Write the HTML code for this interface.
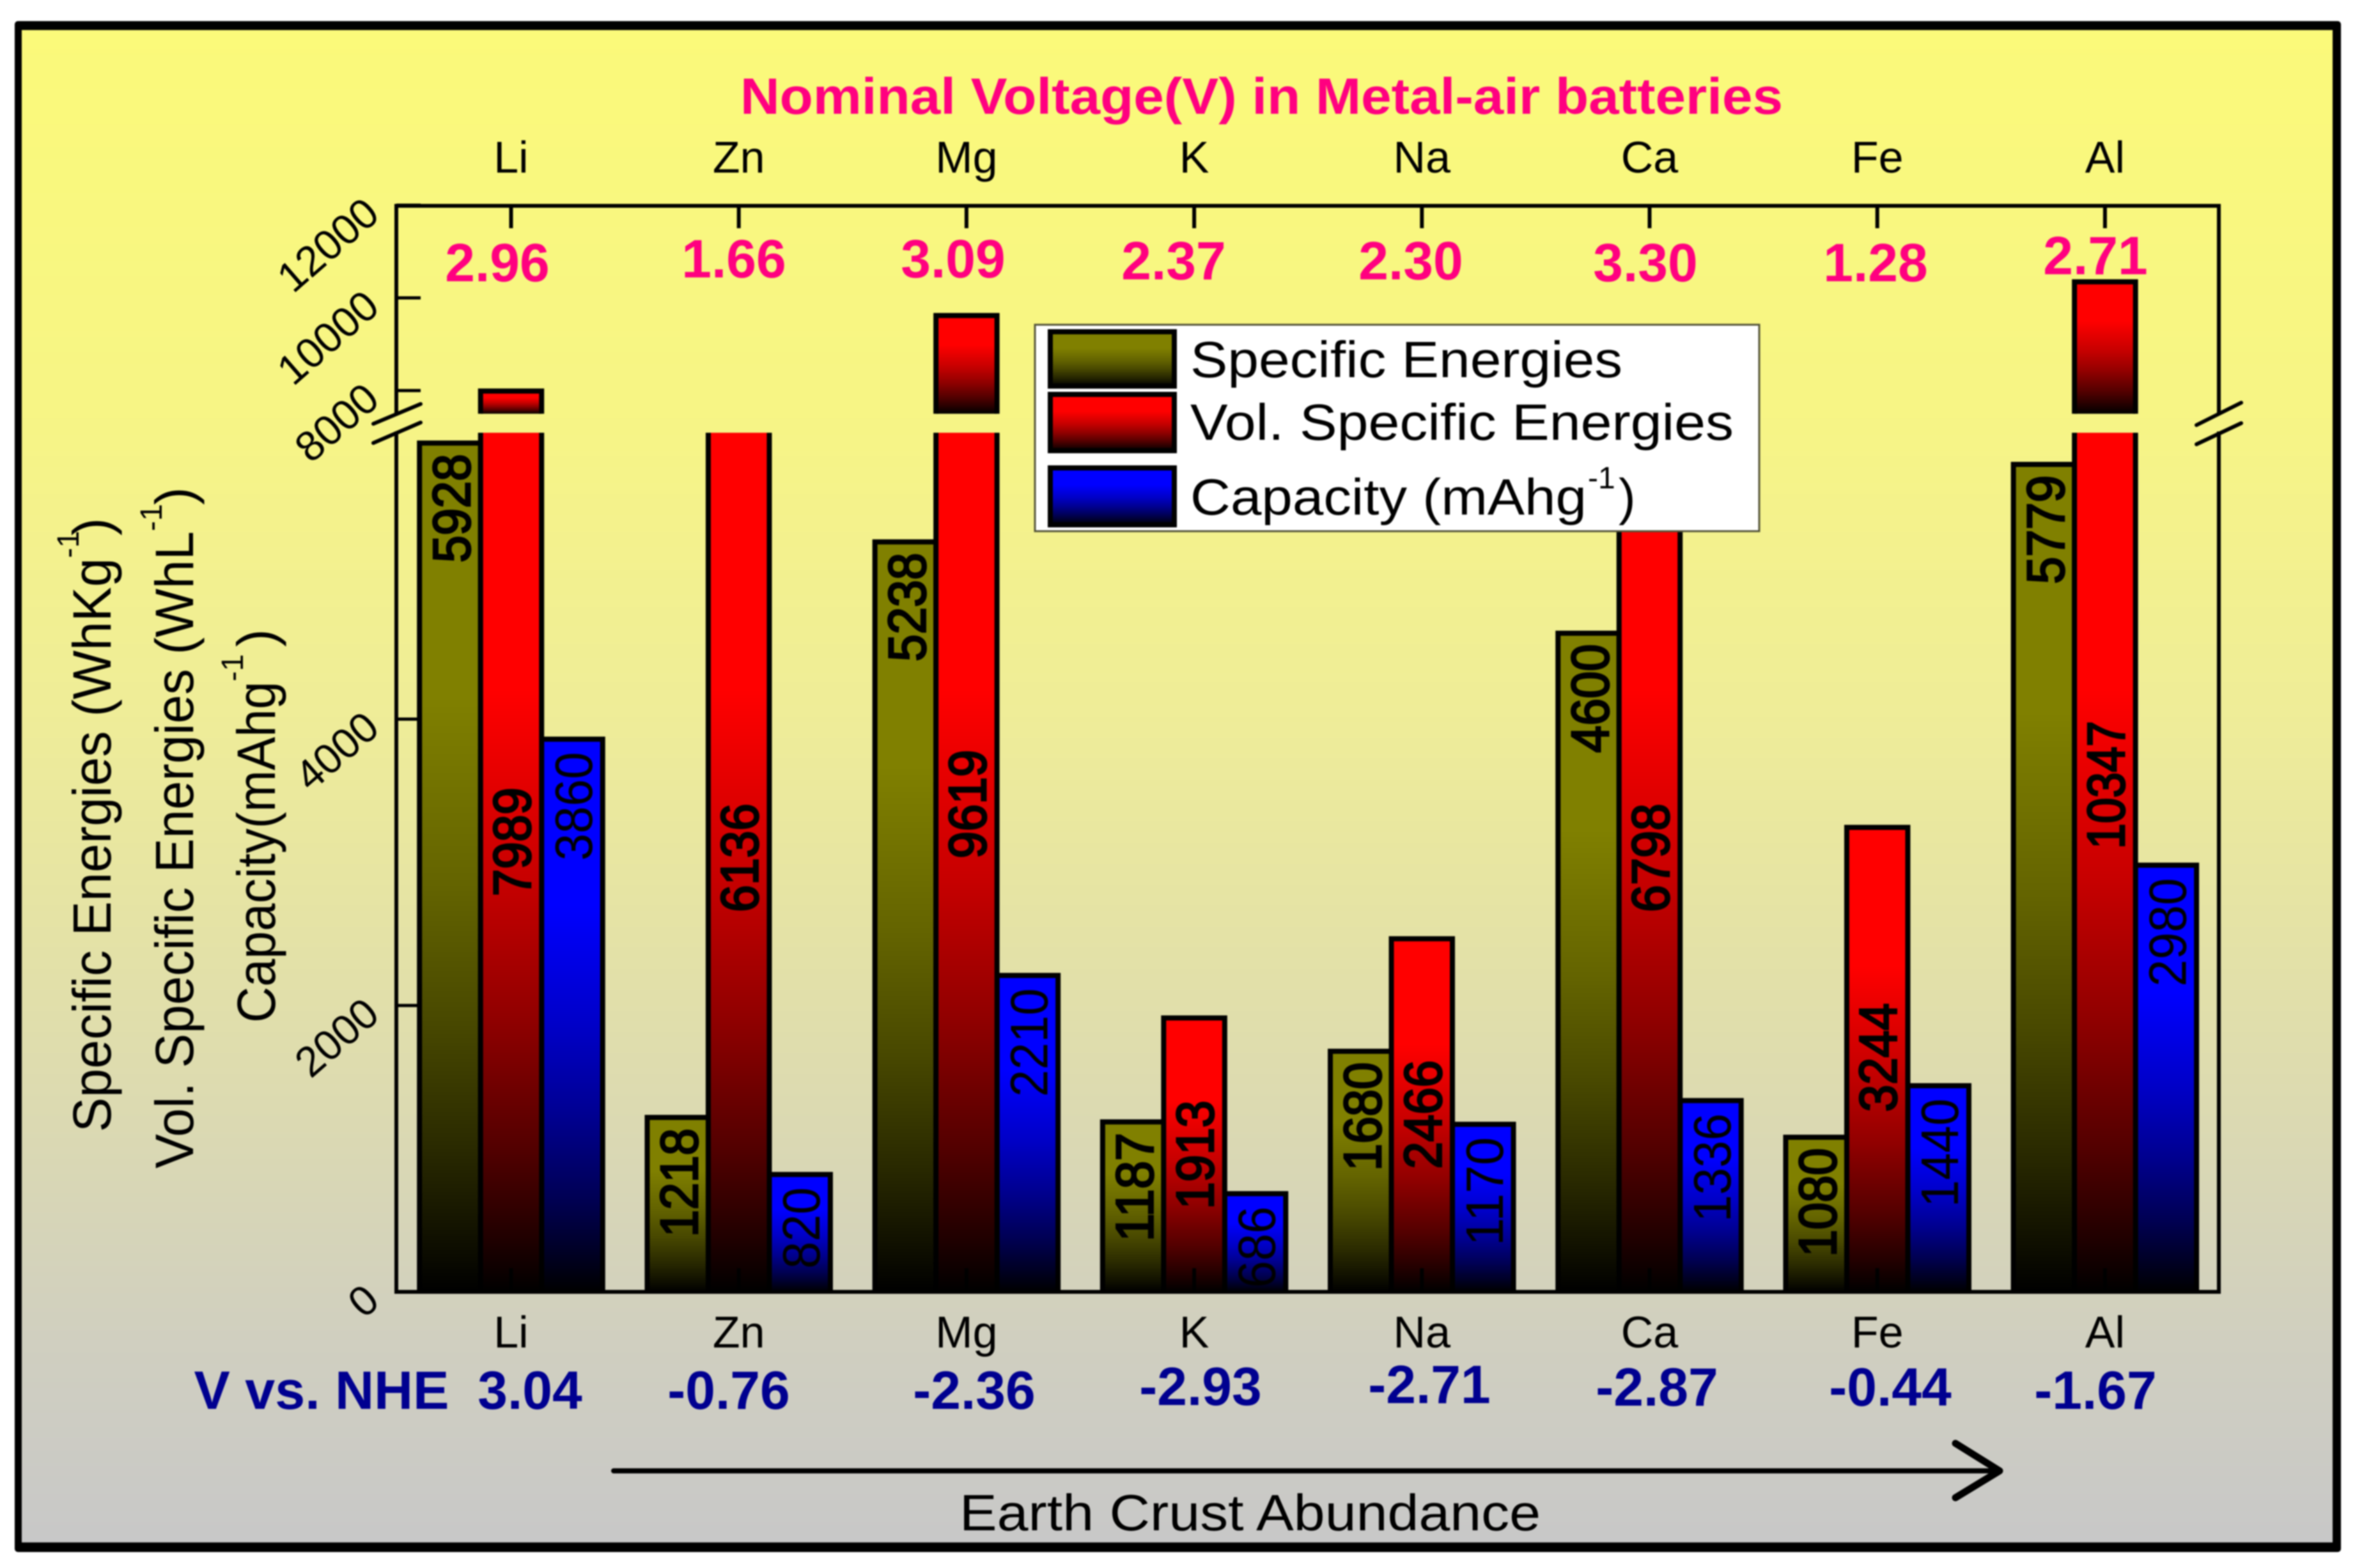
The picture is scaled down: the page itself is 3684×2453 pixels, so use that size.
<!DOCTYPE html>
<html lang="en">
<head>
<meta charset="utf-8">
<title>Metal-air batteries chart</title>
<style>
html,body{margin:0;padding:0;background:#fff;}
svg{display:block;filter:blur(1.1px);}
text{font-family:"Liberation Sans",sans-serif;}
</style>
</head>
<body>
<svg id="chart" xmlns="http://www.w3.org/2000/svg" width="3684" height="2453" viewBox="0 0 3684 2453">
  <defs>
    <linearGradient id="bg-grad" x1="0" y1="0" x2="0" y2="1">
      <stop offset="0" stop-color="#fbfa7a"/><stop offset="0.25" stop-color="#f7f585"/>
      <stop offset="0.45" stop-color="#efed98"/><stop offset="0.7" stop-color="#dddbb0"/>
      <stop offset="0.87" stop-color="#d0cfc0"/><stop offset="1" stop-color="#c8c8c8"/>
    </linearGradient>
    <linearGradient id="grad-olive" x1="0" y1="0" x2="0" y2="1">
      <stop offset="0" stop-color="#808000"/><stop offset="0.3" stop-color="#808000"/>
      <stop offset="0.52" stop-color="#646400"/><stop offset="0.68" stop-color="#494900"/>
      <stop offset="0.83" stop-color="#2a2a00"/><stop offset="0.93" stop-color="#121200"/>
      <stop offset="1" stop-color="#000"/>
    </linearGradient>
    <linearGradient id="grad-red" x1="0" y1="0" x2="0" y2="1">
      <stop offset="0" stop-color="#ff0000"/><stop offset="0.3" stop-color="#ff0000"/>
      <stop offset="0.52" stop-color="#c70000"/><stop offset="0.68" stop-color="#910000"/>
      <stop offset="0.83" stop-color="#540000"/><stop offset="0.93" stop-color="#240000"/>
      <stop offset="1" stop-color="#000"/>
    </linearGradient>
    <linearGradient id="grad-blue" x1="0" y1="0" x2="0" y2="1">
      <stop offset="0" stop-color="#0000ff"/><stop offset="0.3" stop-color="#0000ff"/>
      <stop offset="0.52" stop-color="#0000c7"/><stop offset="0.68" stop-color="#000091"/>
      <stop offset="0.83" stop-color="#000054"/><stop offset="0.93" stop-color="#000024"/>
      <stop offset="1" stop-color="#000"/>
    </linearGradient>
  </defs>

  <rect x="23" y="33" width="3639" height="2395" rx="5" fill="#000"/>
  <rect x="34" y="47" width="3615" height="2366" fill="url(#bg-grad)"/>

  <text x="1158" y="178" font-size="80" font-weight="bold" fill="#ff0080" textLength="1631" lengthAdjust="spacingAndGlyphs">Nominal Voltage(V) in Metal-air batteries</text>

  <g id="plot"></g>

  <g font-size="84" font-weight="bold" fill="#ff0080" text-anchor="middle">
    <text x="778" y="440">2.96</text>
    <text x="1148" y="434">1.66</text>
    <text x="1491" y="434">3.09</text>
    <text x="1836" y="437">2.37</text>
    <text x="2207" y="437">2.30</text>
    <text x="2574" y="440">3.30</text>
    <text x="2934" y="440">1.28</text>
    <text x="3278" y="429">2.71</text>
  </g>

  <g>
    <rect x="1619" y="508" width="1133" height="323" fill="#fff" stroke="#55553a" stroke-width="3"/>
    <rect x="1643" y="519" width="194" height="85" fill="url(#grad-olive)" stroke="#000" stroke-width="8"/>
    <rect x="1643" y="617" width="194" height="88" fill="url(#grad-red)" stroke="#000" stroke-width="8"/>
    <rect x="1643" y="732" width="194" height="89" fill="url(#grad-blue)" stroke="#000" stroke-width="8"/>
    <text x="1862" y="590" font-size="80" textLength="676" lengthAdjust="spacingAndGlyphs">Specific Energies</text>
    <text x="1862" y="688" font-size="80" textLength="850" lengthAdjust="spacingAndGlyphs">Vol. Specific Energies</text>
    <text x="1862" y="805" font-size="80" textLength="620" lengthAdjust="spacingAndGlyphs">Capacity (mAhg</text>
    <text x="2484" y="764" font-size="48">-1</text>
    <text x="2532" y="805" font-size="80">)</text>
  </g>

  <g font-size="84">
    <text transform="translate(173 1771) rotate(-90)" textLength="898" lengthAdjust="spacingAndGlyphs">Specific Energies (WhKg</text>
    <text transform="translate(123 873) rotate(-90)" font-size="48">-1</text>
    <text transform="translate(173 838) rotate(-90)">)</text>
    <text transform="translate(302 1828) rotate(-90)" textLength="997" lengthAdjust="spacingAndGlyphs">Vol. Specific Energies (WhL</text>
    <text transform="translate(253 831) rotate(-90)" font-size="48">-1</text>
    <text transform="translate(302 790) rotate(-90)">)</text>
    <text transform="translate(430 1600) rotate(-90)" textLength="534" lengthAdjust="spacingAndGlyphs">Capacity(mAhg</text>
    <text transform="translate(380 1066) rotate(-90)" font-size="48">-1</text>
    <text transform="translate(430 1012) rotate(-90)">)</text>
  </g>

  <g font-size="84" font-weight="bold" fill="#000090" text-anchor="middle">
    <text x="503" y="2204" textLength="399" lengthAdjust="spacingAndGlyphs">V vs. NHE</text>
    <text x="829" y="2204">3.04</text>
    <text x="1140" y="2204">-0.76</text>
    <text x="1524" y="2204">-2.36</text>
    <text x="1878" y="2198">-2.93</text>
    <text x="2236" y="2195">-2.71</text>
    <text x="2592" y="2199">-2.87</text>
    <text x="2957" y="2199">-0.44</text>
    <text x="3278" y="2204">-1.67</text>
  </g>

  <g fill="none" stroke="#000" stroke-linecap="round" stroke-linejoin="round">
    <line x1="960" y1="2301" x2="3125" y2="2301" stroke-width="8"/>
    <polyline points="3059,2258 3128,2301 3059,2343" stroke-width="11"/>
  </g>
  <text x="1501" y="2394" font-size="80" textLength="909" lengthAdjust="spacingAndGlyphs">Earth Crust Abundance</text>
</svg>

<script>
const categories = ["Li", "Zn", "Mg", "K", "Na", "Ca", "Fe", "Al"];
const specificEnergies = [5928, 1218, 5238, 1187, 1680, 4600, 1080, 5779];
const volSpecificEnergies = [7989, 6136, 9619, 1913, 2466, 6798, 3244, 10347];
const capacities = [3860, 820, 2210, 686, 1170, 1336, 1440, 2980];
const lowerTicks = [0, 2000, 4000];
const upperTicks = [8000, 10000, 12000];

const NS = "http://www.w3.org/2000/svg";
const plot = document.getElementById("plot");

const axisLeft = 620, axisRight = 3471, axisTop = 322, axisBottom = 2021;
const breakLow = 6000, breakHigh = 7500;

function xCenter(i) { return 799.5 + i * 356.2; }
function yLower(v) { return axisBottom - v * 0.224; }
function yUpper(v) { return 611 - (v - 8000) * 0.0725; }

function make(tag, attrs, parent) {
  const el = document.createElementNS(NS, tag);
  for (const k in attrs) el.setAttribute(k, attrs[k]);
  (parent || plot).appendChild(el);
  return el;
}

function drawSegment(x, yTop, yBottom, fillId, closedTop, name) {
  const w = 95.5;
  const fill = make("rect", { x: x - w / 2, y: yTop, width: w, height: yBottom - yTop, fill: "url(#" + fillId + ")" });
  
  
  const d = closedTop
    ? "M" + (x - w / 2) + " " + yBottom + "V" + yTop + "H" + (x + w / 2) + "V" + yBottom
    : "M" + (x - w / 2) + " " + yBottom + "V" + yTop + "M" + (x + w / 2) + " " + yTop + "V" + yBottom;
  const edge = make("path", { d: d, fill: "none", stroke: "#000", "stroke-width": 8 });
  
  
}

function drawBar(x, v, fillId, name) {
  const truncated = v > breakLow;
  drawSegment(x, yLower(Math.min(v, breakLow)), axisBottom, fillId, !truncated, name);
  if (v >= breakHigh) {
    drawSegment(x, yUpper(v), yUpper(breakHigh), fillId, true, name + '-upper');
  }
}

function drawValueLabel(xBase, yTop, value, heavy, name) {
  const s = String(value);
  const t = make("text", {
    transform: "translate(" + xBase + " " + yTop + ") rotate(-90)",
    "text-anchor": "end",
    "font-size": 83,
    fill: "#000",
    stroke: heavy ? "#000" : "none",
    "stroke-width": heavy ? 3 : 0,
    textLength: Math.min(s.length * 42.5, 200),
    lengthAdjust: "spacingAndGlyphs"
  });
  t.textContent = s;
  
  
}

/* axis frame */
const frameLines = [
  [axisLeft, axisTop, axisRight, axisTop, 'top-axis'],
  [axisLeft, axisBottom, axisRight, axisBottom, 'bottom-axis'],
  [axisLeft, axisTop, axisLeft, 646, 'left-axis-upper'],
  [axisLeft, 678, axisLeft, axisBottom, 'left-axis-lower'],
  [axisRight, axisTop, axisRight, 646, 'right-axis-upper'],
  [axisRight, 678, axisRight, axisBottom, 'right-axis-lower']
];
frameLines.forEach(function (f) {
  const l = make("line", { x1: f[0], y1: f[1], x2: f[2], y2: f[3], stroke: "#000", "stroke-width": 6, "stroke-linecap": "square" });
  
  
});

/* axis break marks */
const breakMarks = [
  [584, 663, 658, 632], [584, 693, 658, 661],
  [3436, 665, 3506, 630], [3436, 695, 3506, 662]
];
breakMarks.forEach(function (b) {
  const l = make("line", { x1: b[0], y1: b[1], x2: b[2], y2: b[3], stroke: "#000", "stroke-width": 6, "stroke-linecap": "round" });
  
  
});

/* y ticks */
function drawYTick(v, y) {
  const tick = make("line", { x1: axisLeft, y1: y, x2: axisLeft + 38, y2: y, stroke: "#000", "stroke-width": 5 });
  
  
  const label = make("text", {
    transform: "translate(597 " + (y + 19) + ") rotate(-41)",
    "text-anchor": "end",
    "font-size": 66,
    fill: "#000"
  });
  label.textContent = String(v);
  
  
}
lowerTicks.forEach(function (v) { drawYTick(v, yLower(v)); });
upperTicks.forEach(function (v) { drawYTick(v, yUpper(v)); });

/* category ticks and labels */
categories.forEach(function (c, i) {
  const x = xCenter(i);
  const tick = make("line", { x1: x, y1: axisTop, x2: x, y2: 357, stroke: "#000", "stroke-width": 6 });
  
  
  const top = make("text", { x: x, y: 270, "text-anchor": "middle", "font-size": 70, fill: "#000" });
  top.textContent = c;
  
  
  const bottom = make("text", { x: x, y: 2108, "text-anchor": "middle", "font-size": 70, fill: "#000" });
  bottom.textContent = c;
  
  
});

/* bars */
const barStep = 95.5;
categories.forEach(function (c, i) {
  const x = xCenter(i);
  drawBar(x - barStep, specificEnergies[i], "grad-olive", 'bar-specific-energy-' + c);
  drawBar(x + barStep, capacities[i], "grad-blue", 'bar-capacity-' + c);
  drawBar(x, volSpecificEnergies[i], "grad-red", 'bar-vol-specific-energy-' + c);
});

/* bottom ticks sit on top of the bars */
categories.forEach(function (c, i) {
  const x = xCenter(i);
  const tick = make("line", { x1: x, y1: axisBottom, x2: x, y2: 1984, stroke: "#000", "stroke-width": 6 });
  
  
});

/* printed values inside the bars; the red labels were placed by hand at varying depths */
const redLabelDrop = [555, 580, 496, 129, 190, 580, 275, 451];
categories.forEach(function (c, i) {
  const x = xCenter(i);
  drawValueLabel(x - barStep + 31, yLower(specificEnergies[i]) + 17, specificEnergies[i], true, 'value-specific-energy-' + c);
  drawValueLabel(x + 30, yLower(Math.min(volSpecificEnergies[i], breakLow)) + redLabelDrop[i], volSpecificEnergies[i], true, 'value-vol-specific-energy-' + c);
  drawValueLabel(x + barStep + 31, yLower(capacities[i]) + 20, capacities[i], false, 'value-capacity-' + c);
});
</script>
</body>
</html>
